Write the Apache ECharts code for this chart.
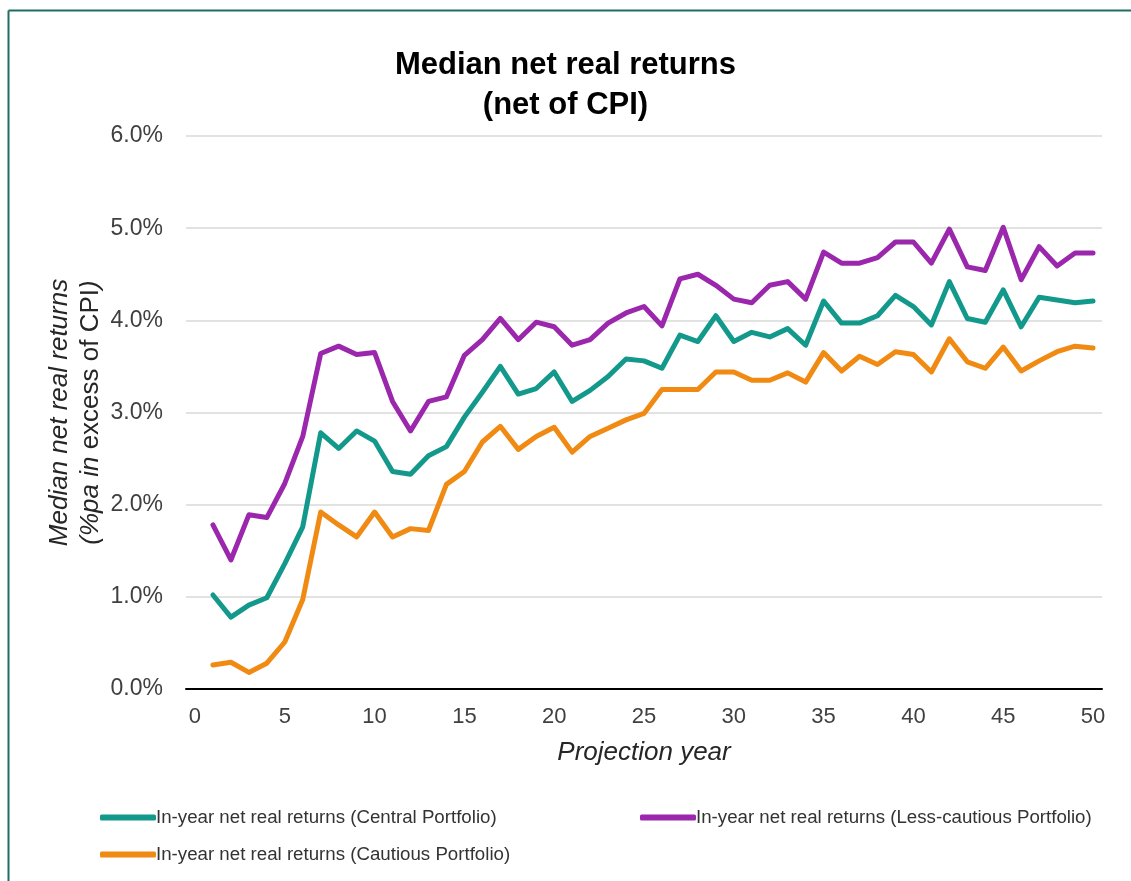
<!DOCTYPE html>
<html>
<head>
<meta charset="utf-8">
<script src="https://cdn.jsdelivr.net/npm/echarts@6/dist/echarts.min.js"></script>
<style>
html,body{margin:0;padding:0;background:#fff;}
#chart{width:1131px;height:881px;}
</style>
</head>
<body>
<div id="chart"></div>
<script>
// Categories: projection years 0..50 (year 0 has no data)
const years = Array.from({length: 51}, (_, i) => String(i));
const yTicks = [0, 1, 2, 3, 4, 5, 6];

const seriesNames = [
  'In-year net real returns (Central Portfolio)',
  'In-year net real returns (Less-cautious Portfolio)',
  'In-year net real returns (Cautious Portfolio)'
];

// Values in % for years 1..50
const central = [1.02, 0.78, 0.91, 0.99, 1.36, 1.76, 2.78, 2.61, 2.80, 2.69,
  2.36, 2.33, 2.53, 2.63, 2.95, 3.22, 3.50, 3.20, 3.26, 3.44,
  3.12, 3.24, 3.39, 3.58, 3.56, 3.48, 3.84, 3.77, 4.05, 3.77,
  3.87, 3.82, 3.91, 3.73, 4.21, 3.97, 3.97, 4.05, 4.27, 4.15,
  3.95, 4.42, 4.02, 3.98, 4.33, 3.93, 4.25, 4.22, 4.19, 4.21];

const lessCautious = [1.78, 1.40, 1.89, 1.86, 2.23, 2.74, 3.64, 3.72, 3.63, 3.65,
  3.12, 2.80, 3.12, 3.17, 3.62, 3.79, 4.02, 3.79, 3.98, 3.93,
  3.73, 3.79, 3.97, 4.08, 4.15, 3.94, 4.45, 4.50, 4.38, 4.23,
  4.19, 4.38, 4.42, 4.23, 4.74, 4.62, 4.62, 4.68, 4.85, 4.85,
  4.62, 4.99, 4.58, 4.54, 5.01, 4.44, 4.80, 4.59, 4.73, 4.73];

const cautious = [0.26, 0.29, 0.18, 0.28, 0.51, 0.97, 1.92, 1.78, 1.65, 1.92,
  1.65, 1.74, 1.72, 2.22, 2.36, 2.68, 2.85, 2.60, 2.74, 2.84,
  2.57, 2.74, 2.83, 2.92, 2.99, 3.25, 3.25, 3.25, 3.44, 3.44,
  3.35, 3.35, 3.43, 3.33, 3.65, 3.45, 3.61, 3.52, 3.66, 3.63,
  3.44, 3.80, 3.55, 3.48, 3.71, 3.45, 3.56, 3.66, 3.72, 3.70];

const colors = ['#13998b', '#9b27ad', '#f08a12'];
const FONT = '"Liberation Sans", Arial, sans-serif';

const chart = echarts.init(document.getElementById('chart'), null, {renderer: 'canvas'});

function withYearZero(arr) { return [null].concat(arr); }

function legendFor(name, left, top) {
  return {
    data: [name],
    left: left, top: top,
    orient: 'horizontal',
    icon: 'roundRect',
    itemWidth: 56, itemHeight: 6,
    padding: 0,
    selectedMode: false,
    textStyle: {fontFamily: FONT, fontSize: 18.7, color: '#333', padding: [0, 0, 0, -5]}
  };
}

const option = {
  backgroundColor: '#ffffff',
  animation: false,
  color: colors,
  title: {
    text: 'Median net real returns\n(net of CPI)',
    left: 'center',
    top: 40,
    textStyle: {fontFamily: FONT, fontSize: 31, fontWeight: 'bold', color: '#000', lineHeight: 40}
  },
  graphic: [
    {type: 'line', shape: {x1: 8.5, y1: 10.5, x2: 1131, y2: 10.5}, style: {stroke: '#1e6e64', lineWidth: 2}},
    {type: 'line', shape: {x1: 8.5, y1: 10.5, x2: 8.5, y2: 881}, style: {stroke: '#1e6e64', lineWidth: 2}}
  ],
  legend: [
    legendFor(seriesNames[0], 100, 808),
    legendFor(seriesNames[1], 640, 808),
    legendFor(seriesNames[2], 100, 845)
  ],
  grid: {left: 186, right: 29, top: 136, bottom: 192, containLabel: false},
  xAxis: {
    type: 'category',
    data: years,
    boundaryGap: true,
    axisLine: {lineStyle: {color: '#000', width: 2}},
    axisTick: {show: false},
    axisLabel: {
      interval: 4,
      margin: 17,
      fontFamily: FONT, fontSize: 22, color: '#404040'
    },
    name: 'Projection year',
    nameLocation: 'middle',
    nameGap: 51,
    nameMoveOverlap: false,
    nameTextStyle: {fontFamily: FONT, fontSize: 26, fontStyle: 'italic', color: '#262626'}
  },
  yAxis: {
    type: 'value',
    min: yTicks[0],
    max: yTicks[yTicks.length - 1],
    interval: 1,
    axisLine: {show: false},
    axisTick: {show: false},
    splitLine: {lineStyle: {color: '#d9d9d9', width: 1.5}},
    axisLabel: {
      margin: 23,
      fontFamily: FONT, fontSize: 23, color: '#404040',
      formatter: v => v.toFixed(1) + '%'
    },
    name: '{i|Median net real returns}\n{i|(%pa in}{n| excess of CPI}{i|)}',
    nameLocation: 'middle',
    nameGap: 80,
    nameMoveOverlap: false,
    nameTextStyle: {
      fontFamily: FONT, fontSize: 26, color: '#262626', lineHeight: 31,
      rich: {
        i: {fontFamily: FONT, fontSize: 26, fontStyle: 'italic', color: '#262626', lineHeight: 31},
        n: {fontFamily: FONT, fontSize: 26, fontStyle: 'normal', color: '#262626', lineHeight: 31}
      }
    }
  },
  series: [
    {name: seriesNames[0], type: 'line', data: withYearZero(central), showSymbol: false, symbol: 'none',
     lineStyle: {width: 5, color: colors[0], join: 'round', cap: 'round'}, itemStyle: {color: colors[0]}, z: 3},
    {name: seriesNames[1], type: 'line', data: withYearZero(lessCautious), showSymbol: false, symbol: 'none',
     lineStyle: {width: 5, color: colors[1], join: 'round', cap: 'round'}, itemStyle: {color: colors[1]}, z: 2},
    {name: seriesNames[2], type: 'line', data: withYearZero(cautious), showSymbol: false, symbol: 'none',
     lineStyle: {width: 5, color: colors[2], join: 'round', cap: 'round'}, itemStyle: {color: colors[2]}, z: 2}
  ]
};

chart.setOption(option);
</script>
</body>
</html>
